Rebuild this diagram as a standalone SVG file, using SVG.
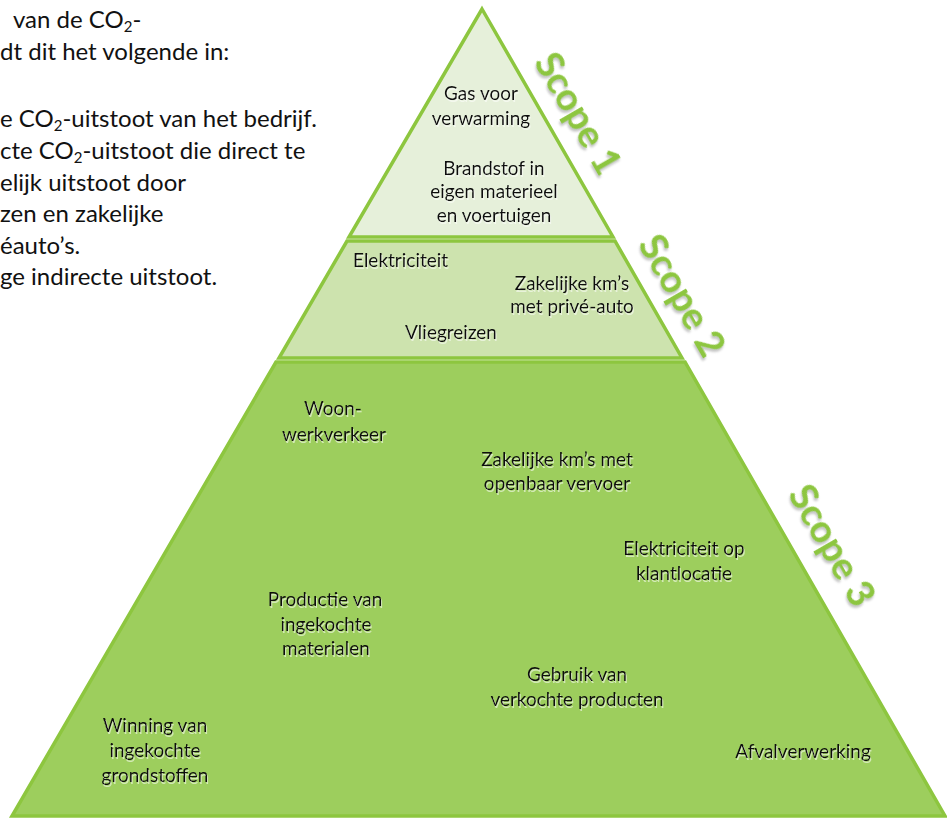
<svg xmlns="http://www.w3.org/2000/svg" width="947" height="820" viewBox="0 0 947 820">
<defs>
<filter id="ts" x="-10%" y="-20%" width="120%" height="150%">
<feDropShadow dx="1" dy="2" stdDeviation="0.6" flood-color="#ffffff" flood-opacity="0.55"/>
</filter>
<filter id="ss" x="-20%" y="-20%" width="140%" height="140%">
<feDropShadow dx="2" dy="2" stdDeviation="1" flood-color="#7f7f7f" flood-opacity="0.45"/>
</filter>
</defs>
<style>
.tier{stroke:#8dc63f;stroke-width:3.5;stroke-linejoin:miter}
.t1{fill:#e6f0da}
.t2{fill:#cde3ae}
.t3{fill:#9dce5d}
.lbl{font-family:Lato,"Liberation Sans",sans-serif;font-size:19px;fill:#111;text-anchor:middle;filter:url(#ts)}
.para{font-family:Lato,"Liberation Sans",sans-serif;font-size:24px;fill:#111}
.sub{font-size:15px}
.scope{font-family:Lato,"Liberation Sans",sans-serif;font-size:38px;font-weight:bold;fill:#8dc63f;text-anchor:middle;filter:url(#ss)}
</style>
<rect width="947" height="820" fill="#ffffff"/>
<g id="intro-text" class="para">
<text x="13" y="28">van de CO<tspan class="sub" dy="4">2</tspan><tspan dy="-4">-</tspan></text>
<text x="0" y="60">dt dit het volgende in:</text>
<text x="0" y="127">e CO<tspan class="sub" dy="4">2</tspan><tspan dy="-4">-uitstoot van het bedrijf.</tspan></text>
<text x="0" y="159">cte CO<tspan class="sub" dy="4">2</tspan><tspan dy="-4">-uitstoot die direct te</tspan></text>
<text x="0" y="191">elijk uitstoot door</text>
<text x="0" y="222">zen en zakelijke</text>
<text x="0" y="254">éauto’s.</text>
<text x="0" y="285">ge indirecte uitstoot.</text>
</g>
<g id="scope1">
<polygon class="tier t1" points="482,9 613,237 349,237"/>
<text class="lbl" x="481" y="100">Gas voor</text>
<text class="lbl" x="481" y="125">verwarming</text>
<text class="lbl" x="494" y="175">Brandstof in</text>
<text class="lbl" x="494" y="198">eigen materieel</text>
<text class="lbl" x="494" y="222">en voertuigen</text>
<text class="scope" transform="translate(577,114) rotate(60)" y="12">Scope 1</text>
</g>
<g id="scope2">
<polygon class="tier t2" points="347,241 615,241 682,358 279,358"/>
<text class="lbl" x="353" y="267" style="text-anchor:start">Elektriciteit</text>
<text class="lbl" x="572" y="290">Zakelijke km’s</text>
<text class="lbl" x="572" y="313">met privé-auto</text>
<text class="lbl" x="451" y="339">Vliegreizen</text>
<text class="scope" transform="translate(681,296) rotate(60)" y="12">Scope 2</text>
</g>
<g id="scope3">
<polygon class="tier t3" points="276,362 685,362 945,816 12,816"/>
<text class="lbl" x="333" y="415">Woon-</text>
<text class="lbl" x="334" y="441">werkverkeer</text>
<text class="lbl" x="557" y="466">Zakelijke km’s met</text>
<text class="lbl" x="557" y="490">openbaar vervoer</text>
<text class="lbl" x="684" y="555">Elektriciteit op</text>
<text class="lbl" x="684" y="580">klantlocatie</text>
<text class="lbl" x="325" y="606">Productie van</text>
<text class="lbl" x="326" y="631">ingekochte</text>
<text class="lbl" x="326" y="655">materialen</text>
<text class="lbl" x="577" y="681">Gebruik van</text>
<text class="lbl" x="577" y="706">verkochte producten</text>
<text class="lbl" x="155" y="732">Winning van</text>
<text class="lbl" x="155" y="757">ingekochte</text>
<text class="lbl" x="155" y="782">grondstoffen</text>
<text class="lbl" x="803" y="758">Afvalverwerking</text>
<text class="scope" transform="translate(831,546) rotate(60)" y="12">Scope 3</text>
</g>
<g id="connectors"/>
</svg>
